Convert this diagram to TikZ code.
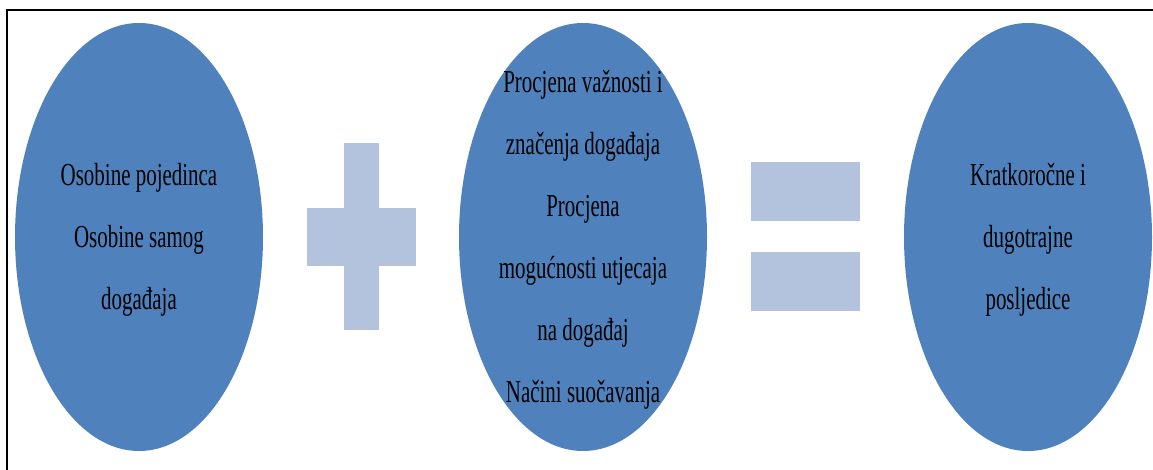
\documentclass[tikz,border=0pt]{standalone}
\usepackage{fontspec}
\setmainfont{Liberation Serif}
\newfontfamily\bubblefont[FakeStretch=0.655]{Liberation Serif}
\usetikzlibrary{shapes.geometric}

\definecolor{bubbleblue}{RGB}{79,129,189}
\definecolor{signblue}{RGB}{179,194,221}

\begin{document}
\begin{tikzpicture}[
    x=0.75pt, y=-0.75pt,
    bubble/.style={ellipse, fill=bubbleblue, minimum width=186pt, minimum height=321pt, inner sep=0pt},
    bubbletext/.style={align=center, font=\bubblefont\fontsize{24}{46.5}\selectfont, inner sep=0pt},
    bar/.style={rectangle, fill=signblue, inner sep=0pt},
    frame/.style={line width=1.8pt}
]

\useasboundingbox (0,0) rectangle (1153,470);

% Frame (only top and left edges are visible)
\draw[frame] (7,470) |- (1153,10);

% Ellipses
\node[bubble] (pojedinac) at (139,237) {};
\node[bubble] (procjena) at (583,237) {};
\node[bubble] (posljedice) at (1028,237) {};

% Texts
\node[bubbletext] (pojedinac-txt) at (139,240) {Osobine pojedinca\\Osobine samog\\događaja};
\node[bubbletext] (procjena-txt) at (583,240) {Procjena važnosti i\\značenja događaja\\Procjena\\mogućnosti utjecaja\\na događaj\\Načini suočavanja};
\node[bubbletext] (posljedice-txt) at (1028,240) {Kratkoročne i\\dugotrajne\\posljedice};

% Plus sign
\node[bar, minimum width=26.25pt, minimum height=140.25pt] (plus-v) at (361.5,236.5) {};
\node[bar, minimum width=81.75pt, minimum height=43.5pt] (plus-h) at (361.5,237) {};

% Equals sign
\node[bar, minimum width=81.75pt, minimum height=44.25pt] (eq-top) at (805.5,191.5) {};
\node[bar, minimum width=81.75pt, minimum height=44.25pt] (eq-bottom) at (805.5,281.5) {};

\end{tikzpicture}
\end{document}
